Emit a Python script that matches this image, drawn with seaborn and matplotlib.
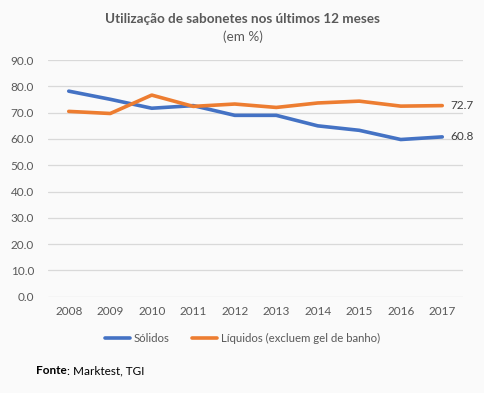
import matplotlib
matplotlib.use("Agg")
import matplotlib.pyplot as plt
import seaborn as sns
import pandas as pd

years = ["2008", "2009", "2010", "2011", "2012", "2013", "2014", "2015", "2016", "2017"]
solidos = [78.2, 75.1, 71.7, 72.7, 69.0, 69.0, 65.0, 63.3, 59.8, 60.8]
liquidos = [70.5, 69.7, 76.7, 72.4, 73.3, 72.0, 73.7, 74.4, 72.5, 72.7]
series_names = ["Sólidos", "Líquidos (excluem gel de banho)"]
colors = ["#4472C4", "#ED7D31"]

df = pd.DataFrame({"ano": years * 2,
                   "valor": solidos + liquidos,
                   "serie": [series_names[0]] * len(years) + [series_names[1]] * len(years)})

sns.set_theme(style="white")
plt.rcParams['font.family'] = ['Lato', 'DejaVu Sans']

bg = "#FAFAFA"
fig = plt.figure(figsize=(4.85, 3.93), dpi=100, facecolor=bg)
ax = fig.add_axes([48/485, 0.245, (463-48)/485, 0.847-0.245])
ax.set_facecolor(bg)

sns.lineplot(data=df, x="ano", y="valor", hue="serie", palette=colors,
             linewidth=2.6, ax=ax, legend=False, sort=False)

ax.set_xlim(-0.5, 9.5)
ax.set_ylim(0, 90)
ax.set_yticks(range(0, 91, 10))
ax.set_yticklabels([f"{v:.1f}" for v in range(0, 91, 10)])
ax.grid(axis="y", color="#D9D9D9", linewidth=0.9)
ax.set_axisbelow(True)
for s in ax.spines.values():
    s.set_visible(False)
ax.tick_params(axis="both", length=0, labelsize=8.5, labelcolor="#595959")
ax.tick_params(axis="y", pad=10)
ax.tick_params(axis="x", pad=7)
ax.set_xlabel("")
ax.set_ylabel("")

ax.text(9.2, liquidos[-1], f"{liquidos[-1]:.1f}", va="center", ha="left", fontsize=8.5, color="#404040")
ax.text(9.2, solidos[-1], f"{solidos[-1]:.1f}", va="center", ha="left", fontsize=8.5, color="#404040")

fig.text(0.5, 1 - 19/393, "Utilização de sabonetes nos últimos 12 meses", ha="center", va="center",
         fontsize=9.7, fontweight="bold", color="#595959")
fig.text(0.5, 1 - 37/393, "(em %)", ha="center", va="center", fontsize=9.7, color="#595959")

from matplotlib.lines import Line2D
handles = [Line2D([], [], color=c, linewidth=2.6) for c in colors]
fig.legend(handles, series_names, loc="center", bbox_to_anchor=(0.5, 1 - 338/393), ncol=2,
           frameon=False, fontsize=8.2, labelcolor="#595959", handlelength=2.2, handletextpad=0.3,
           columnspacing=2.0)

t = fig.text(36/485, 1 - 371/393, "Fonte", ha="left", va="center", fontsize=8.5, fontweight="bold", color="#000000")
fig.canvas.draw()
bb = t.get_window_extent()
fig.text(bb.x1 / fig.bbox.width, 1 - 371/393, ": Marktest, TGI", ha="left", va="center", fontsize=8.5, color="#000000")

fig.savefig("out.png", dpi=100, facecolor=bg)
